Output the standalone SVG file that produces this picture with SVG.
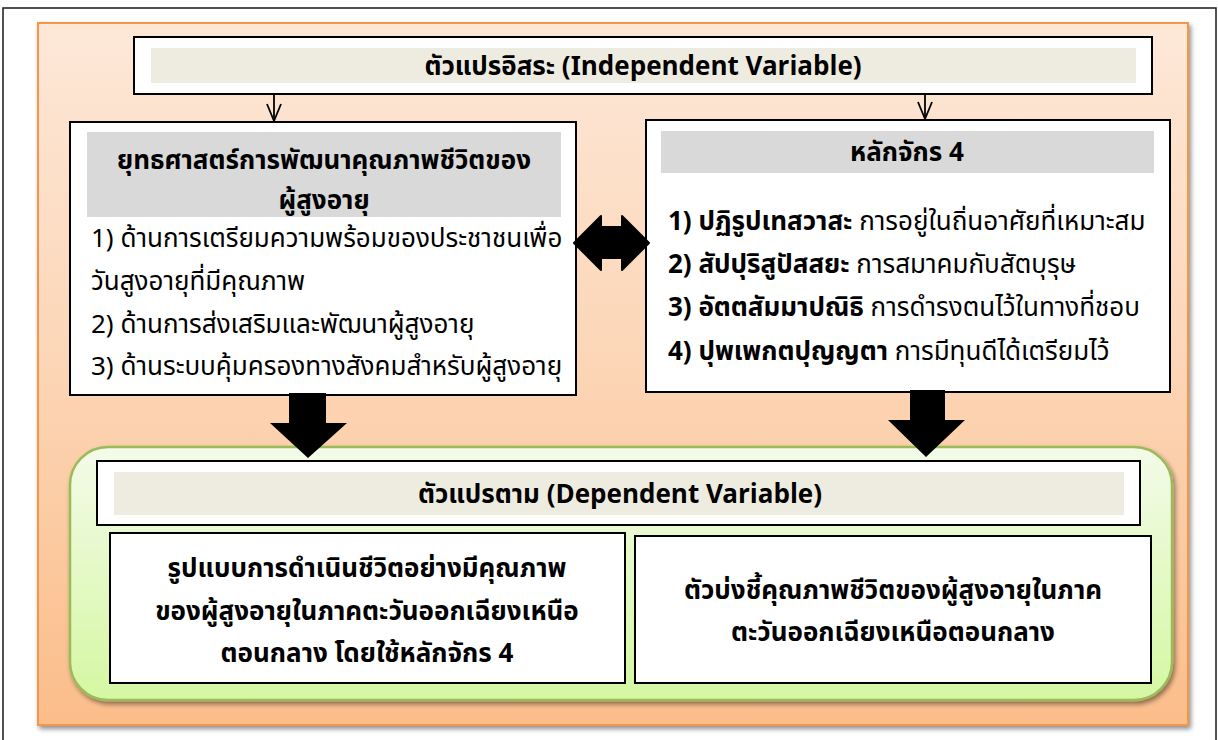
<svg xmlns="http://www.w3.org/2000/svg" width="1218" height="740" viewBox="0 0 1218 740">
<defs>
<linearGradient id="gOrange" x1="0" y1="0" x2="0" y2="1">
<stop offset="0" stop-color="#fde8d8"/>
<stop offset="0.5" stop-color="#fcd5b5"/>
<stop offset="1" stop-color="#fbbd8a"/>
</linearGradient>
<linearGradient id="gGreen" x1="0" y1="0" x2="0" y2="1">
<stop offset="0" stop-color="#f3fbe9"/>
<stop offset="1" stop-color="#d5f7a2"/>
</linearGradient>
<filter id="shadow" x="-5%" y="-5%" width="110%" height="112%">
<feGaussianBlur in="SourceAlpha" stdDeviation="2.5"/>
<feOffset dx="2" dy="3" result="b"/>
<feComponentTransfer><feFuncA type="linear" slope="0.45"/></feComponentTransfer>
<feMerge><feMergeNode/><feMergeNode in="SourceGraphic"/></feMerge>
</filter>
</defs>
<style>
text{font-family:Tahoma,"Noto Sans Thai","Leelawadee UI","Noto Sans","DejaVu Sans",sans-serif;fill:#000;font-size:26px}
.b{font-weight:bold}
.c{text-anchor:middle}
.box{fill:#fff;stroke:#000;stroke-width:2}
.beige{fill:#eeece1}
.gray{fill:#d9d9d9}
.thin{stroke:#000;stroke-width:1.8;fill:none}
.big{fill:#000}
</style>
<rect x="0" y="0" width="1218" height="740" fill="#fff"/>
<rect x="3" y="8" width="1213" height="745" fill="none" stroke="#1a1a1a" stroke-width="1.5"/>
<g id="panel">
<rect x="38" y="23" width="1150" height="702" fill="url(#gOrange)" stroke="#f79646" stroke-width="2" filter="url(#shadow)"/>
</g>
<g id="independent">
<rect class="box" x="134" y="37" width="1018" height="57"/>
<rect class="beige" x="151" y="48" width="985" height="35"/>
<text class="b c" x="643" y="75">ตัวแปรอิสระ (Independent Variable)</text>
</g>
<g id="strategy">
<rect class="box" x="70" y="122" width="506" height="273"/>
<rect class="gray" x="87" y="132" width="474" height="85"/>
<text class="b c" x="324" y="169">ยุทธศาสตร์การพัฒนาคุณภาพชีวิตของ</text>
<text class="b c" x="324" y="209">ผู้สูงอายุ</text>
<text x="91" y="247">1) ด้านการเตรียมความพร้อมของประชาชนเพื่อ</text>
<text x="91" y="290">วันสูงอายุที่มีคุณภาพ</text>
<text x="91" y="333">2) ด้านการส่งเสริมและพัฒนาผู้สูงอายุ</text>
<text x="91" y="375">3) ด้านระบบคุ้มครองทางสังคมสำหรับผู้สูงอายุ</text>
</g>
<g id="principles">
<rect class="box" x="646" y="120" width="524" height="272"/>
<rect class="gray" x="661" y="131" width="493" height="42"/>
<text class="b c" x="907" y="161">หลักจักร 4</text>
<text x="668" y="230"><tspan class="b">1) ปฏิรูปเทสวาสะ</tspan> การอยู่ในถิ่นอาศัยที่เหมาะสม</text>
<text x="668" y="273"><tspan class="b">2) สัปปุริสูปัสสยะ</tspan> การสมาคมกับสัตบุรุษ</text>
<text x="668" y="316"><tspan class="b">3) อัตตสัมมาปณิธิ</tspan> การดำรงตนไว้ในทางที่ชอบ</text>
<text x="668" y="360"><tspan class="b">4) ปุพเพกตปุญญตา</tspan> การมีทุนดีได้เตรียมไว้</text>
</g>
<g id="dependent">
<rect x="70" y="447" width="1102" height="253" rx="38" ry="38" fill="url(#gGreen)" stroke="#9bbb59" stroke-width="2.5" filter="url(#shadow)"/>
<rect class="box" x="97" y="461" width="1043" height="64"/>
<rect class="beige" x="114" y="472" width="1010" height="43"/>
<text class="b c" x="620" y="503">ตัวแปรตาม (Dependent Variable)</text>
</g>
<g id="model">
<rect class="box" x="110" y="533" width="515" height="150"/>
<text class="b c" x="367" y="577">รูปแบบการดำเนินชีวิตอย่างมีคุณภาพ</text>
<text class="b c" x="367" y="620">ของผู้สูงอายุในภาคตะวันออกเฉียงเหนือ</text>
<text class="b c" x="367" y="662">ตอนกลาง โดยใช้หลักจักร 4</text>
</g>
<g id="indicators">
<rect class="box" x="635" y="536" width="516" height="147"/>
<text class="b c" x="893" y="599">ตัวบ่งชี้คุณภาพชีวิตของผู้สูงอายุในภาค</text>
<text class="b c" x="893" y="641">ตะวันออกเฉียงเหนือตอนกลาง</text>
</g>
<g id="connectors">
<line class="thin" x1="274" y1="94" x2="274" y2="121"/>
<path class="thin" d="M267,104 L274,121 L281,104"/>
<line class="thin" x1="925" y1="94" x2="925" y2="119"/>
<path class="thin" d="M918,102 L925,119 L932,102"/>
<path class="big" d="M574,243 L601,216 L601,227 L622,227 L622,216 L649,243 L622,270 L622,258 L601,258 L601,270 Z" stroke="#000" stroke-width="2" stroke-linejoin="round"/>
<path class="big" d="M289,393 L326,393 L326,423 L347,423 L308,458 L270,423 L289,423 Z"/>
<path class="big" d="M910,390 L945,390 L945,420 L965,420 L926,457 L888,420 L910,420 Z"/>
</g>
</svg>
